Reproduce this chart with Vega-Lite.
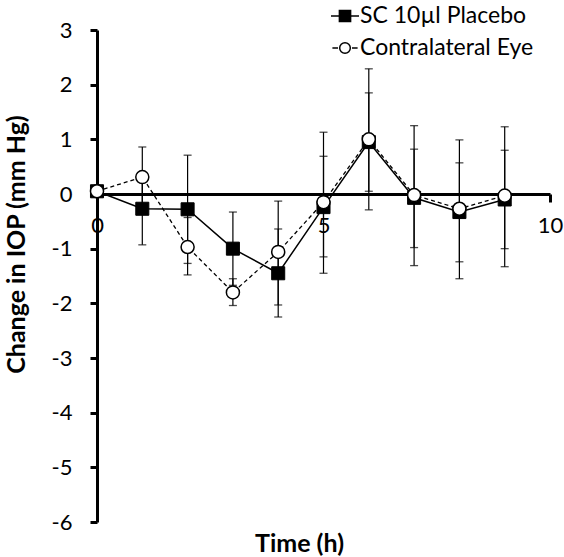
{
  "$schema": "https://vega.github.io/schema/vega-lite/v6.json",
  "width": 453,
  "height": 492,
  "autosize": {"type": "none"},
  "padding": {"left": 97, "top": 30, "right": 14, "bottom": 35},
  "background": "white",
  "config": {
    "view": {"stroke": null},
    "font": "Lato",
    "axis": {"grid": false, "domainColor": "black", "tickColor": "black", "labelColor": "black", "titleColor": "black", "labelFont": "Lato", "titleFont": "Lato"}
  },
  "data": {
    "values": [
      {"t": 0, "series": "SC 10µl Placebo", "mean": 0.05, "lower": 0.05, "upper": 0.05},
      {"t": 1, "series": "SC 10µl Placebo", "mean": -0.27, "lower": -0.93, "upper": 0.39},
      {"t": 2, "series": "SC 10µl Placebo", "mean": -0.28, "lower": -1.27, "upper": 0.71},
      {"t": 3, "series": "SC 10µl Placebo", "mean": -1.0, "lower": -1.67, "upper": -0.33},
      {"t": 4, "series": "SC 10µl Placebo", "mean": -1.45, "lower": -2.25, "upper": -0.64},
      {"t": 5, "series": "SC 10µl Placebo", "mean": -0.24, "lower": -1.15, "upper": 0.69},
      {"t": 6, "series": "SC 10µl Placebo", "mean": 0.95, "lower": 0.05, "upper": 1.85},
      {"t": 7, "series": "SC 10µl Placebo", "mean": -0.07, "lower": -0.98, "upper": 0.82},
      {"t": 8, "series": "SC 10µl Placebo", "mean": -0.33, "lower": -1.24, "upper": 0.57},
      {"t": 9, "series": "SC 10µl Placebo", "mean": -0.1, "lower": -1.0, "upper": 0.8},
      {"t": 0, "series": "Contralateral Eye", "mean": 0.05, "lower": 0.05, "upper": 0.05},
      {"t": 1, "series": "Contralateral Eye", "mean": 0.31, "lower": -0.24, "upper": 0.86},
      {"t": 2, "series": "Contralateral Eye", "mean": -0.97, "lower": -1.48, "upper": -0.43},
      {"t": 3, "series": "Contralateral Eye", "mean": -1.8, "lower": -2.04, "upper": -1.55},
      {"t": 4, "series": "Contralateral Eye", "mean": -1.06, "lower": -2.03, "upper": -0.13},
      {"t": 5, "series": "Contralateral Eye", "mean": -0.15, "lower": -1.45, "upper": 1.13},
      {"t": 6, "series": "Contralateral Eye", "mean": 1.0, "lower": -0.29, "upper": 2.29},
      {"t": 7, "series": "Contralateral Eye", "mean": -0.02, "lower": -1.31, "upper": 1.25},
      {"t": 8, "series": "Contralateral Eye", "mean": -0.27, "lower": -1.55, "upper": 0.99},
      {"t": 9, "series": "Contralateral Eye", "mean": -0.03, "lower": -1.33, "upper": 1.23}
    ]
  },
  "encoding": {
    "x": {
      "field": "t", "type": "quantitative",
      "scale": {"domain": [0, 10], "nice": false, "zero": false},
      "axis": {
        "values": [0, 5, 10], "offset": -328, "domainWidth": 3, "tickWidth": 3, "tickSize": 8,
        "labelFontSize": 22, "labelPadding": 13, "labelFlush": false,
        "title": "Time (h)", "titleFontSize": 25, "titleFontWeight": "bold",
        "titleX": 202, "titleY": 357, "titleAlign": "center", "titleBaseline": "alphabetic", "titleAnchor": null
      }
    },
    "y": {
      "field": "mean", "type": "quantitative",
      "scale": {"domain": [-6, 3], "nice": false, "zero": false},
      "axis": {
        "values": [-6, -5, -4, -3, -2, -1, 0, 1, 2, 3], "domainWidth": 3, "tickWidth": 3, "tickSize": 7,
        "labelFontSize": 22, "labelPadding": 18,
        "labelExpr": "datum.value < 0 ? '-' + abs(datum.value) : '' + datum.value",
        "title": "Change in IOP (mm Hg)", "titleFontSize": 25, "titleFontWeight": "bold",
        "titleX": -81, "titleY": 214, "titleAngle": -90, "titleAlign": "center", "titleBaseline": "middle", "titleAnchor": null
      }
    }
  },
  "layer": [
    {
      "mark": {"type": "rule", "color": "black", "strokeWidth": 1.2},
      "encoding": {"y": {"field": "lower", "type": "quantitative"}, "y2": {"field": "upper"}}
    },
    {
      "mark": {"type": "tick", "orient": "horizontal", "color": "black", "size": 8, "thickness": 1.3},
      "encoding": {"y": {"field": "lower", "type": "quantitative"}}
    },
    {
      "mark": {"type": "tick", "orient": "horizontal", "color": "black", "size": 8, "thickness": 1.3},
      "encoding": {"y": {"field": "upper", "type": "quantitative"}}
    },
    {
      "transform": [{"filter": "datum.series === 'SC 10µl Placebo'"}],
      "mark": {"type": "line", "color": "black", "strokeWidth": 1.5},
      "encoding": {}
    },
    {
      "transform": [{"filter": "datum.series === 'Contralateral Eye'"}],
      "mark": {"type": "line", "color": "black", "strokeWidth": 1.3, "strokeDash": [4, 3]},
      "encoding": {}
    },
    {
      "transform": [{"filter": "datum.series === 'SC 10µl Placebo'"}],
      "mark": {"type": "point", "shape": "square", "filled": true, "fill": "black", "stroke": "black", "strokeWidth": 1, "size": 170, "opacity": 1}
    },
    {
      "transform": [{"filter": "datum.series === 'Contralateral Eye'"}],
      "mark": {"type": "point", "shape": "circle", "filled": true, "fill": "white", "stroke": "black", "strokeWidth": 1.5, "size": 170, "opacity": 1}
    },
    {
      "mark": {"type": "point", "filled": true, "opacity": 0, "size": 784},
      "encoding": {
        "shape": {
          "field": "series", "type": "nominal",
          "scale": {
            "domain": ["SC 10µl Placebo", "Contralateral Eye"],
            "range": [
              "M-1,0H1M-0.4,-0.4H0.4V0.4H-0.4Z",
              "M-0.9,0H-0.5M0.5,0H0.9M0.38,0A0.38,0.38 0 1,1 -0.38,0A0.38,0.38 0 1,1 0.38,0Z"
            ]
          },
          "legend": {
            "title": null, "orient": "none", "legendX": 233, "legendY": -29, "direction": "vertical",
            "labelFontSize": 23, "labelFont": "Lato", "labelColor": "black", "labelOffset": 0, "labelLimit": 400, "rowPadding": 5,
            "symbolSize": 784, "symbolStrokeWidth": 1.5,
            "encode": {"symbols": {"update": {"opacity": {"value": 1}, "stroke": {"value": "black"}, "strokeWidth": {"value": 1.5}}}}
          }
        },
        "fill": {
          "field": "series", "type": "nominal",
          "scale": {"domain": ["SC 10µl Placebo", "Contralateral Eye"], "range": ["black", "white"]},
          "legend": {
            "title": null, "orient": "none", "legendX": 233, "legendY": -29, "direction": "vertical",
            "labelFontSize": 23, "labelFont": "Lato", "labelColor": "black", "labelOffset": 0, "labelLimit": 400, "rowPadding": 5,
            "symbolSize": 784, "symbolStrokeWidth": 1.5,
            "encode": {"symbols": {"update": {"opacity": {"value": 1}, "stroke": {"value": "black"}, "strokeWidth": {"value": 1.5}}}}
          }
        }
      }
    }
  ]
}
